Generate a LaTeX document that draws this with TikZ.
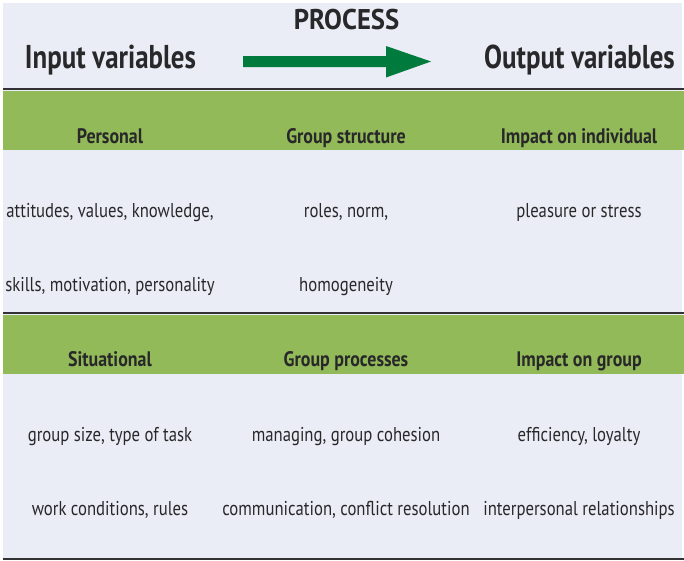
\documentclass[tikz,border=0pt]{standalone}
\usepackage{fontspec}
\setmainfont{PT Sans}[FakeStretch=0.835]
\newfontfamily\hdfont{PT Sans}[FakeStretch=0.853]
\newfontfamily\ttlfont{PT Sans}[FakeStretch=0.815]
\newfontfamily\procfont{PT Sans}[FakeStretch=0.936]
\definecolor{bgc}{RGB}{234,237,245}
\definecolor{band}{RGB}{147,186,88}
\definecolor{arrowg}{RGB}{0,122,61}
\definecolor{txt}{RGB}{40,40,42}
\definecolor{rule}{RGB}{50,50,52}
\begin{document}
\begin{tikzpicture}[x=1pt,y=-1pt,
  cell/.style={anchor=base,inner sep=0pt,text=txt,font=\fontsize{20}{22}\selectfont},
  head/.style={anchor=base,inner sep=0pt,text=txt,font=\hdfont\fontsize{21}{23}\selectfont\bfseries},
  title/.style={anchor=base,inner sep=0pt,text=txt,font=\ttlfont\fontsize{33}{36}\selectfont\bfseries},
  rulel/.style={draw=rule,line width=2.6pt}]
\useasboundingbox (0,0) rectangle (684,560);
\fill[white] (0,0) rectangle (684,560);
\fill[bgc] (3,3) rectangle (682,560);
% green bands
\fill[band] (3,90.5) rectangle (684,150);
\fill[band] (3,314.5) rectangle (684,374);
% rules
\draw[rulel] (3,89) -- (684,89);
\draw[rulel] (3,313) -- (684,313);
\draw[rulel] (3,559) -- (684,559);
% titles
\node[title,font=\procfont\fontsize{28.5}{30}\selectfont\bfseries] (proc) at (346.5,29) {PROCESS};
\node[title] (inp) at (110.5,68) {Input variables};
\node[title] (outp) at (579.5,68) {Output variables};
% arrow
\fill[arrowg] (243,56) -- (386,56) -- (386,46) -- (431,61.5) -- (386,77.5) -- (386,67) -- (243,67) -- cycle;
% headers row 1
\node[head] (h11) at (110,143) {Personal};
\node[head] (h12) at (346,143) {Group structure};
\node[head] (h13) at (579,143) {Impact on individual};
\node[cell] (c11) at (110,217) {attitudes, values, knowledge,};
\node[cell] (c12) at (346,217) {roles, norm,};
\node[cell] (c13) at (579,217) {pleasure or stress};
\node[cell] (c21) at (110,291) {skills, motivation, personality};
\node[cell] (c22) at (346,291) {homogeneity};
% headers row 2
\node[head] (h21) at (110,366) {Situational};
\node[head] (h22) at (346,366) {Group processes};
\node[head] (h23) at (579,366) {Impact on group};
\node[cell] (d11) at (110,441) {group size, type of task};
\node[cell] (d12) at (346,441) {managing, group cohesion};
\node[cell] (d13) at (579,441) {efficiency, loyalty};
\node[cell] (d21) at (110,515) {work conditions, rules};
\node[cell] (d22) at (346,515) {communication, conflict resolution};
\node[cell] (d23) at (579,515) {interpersonal relationships};
\end{tikzpicture}
\end{document}
